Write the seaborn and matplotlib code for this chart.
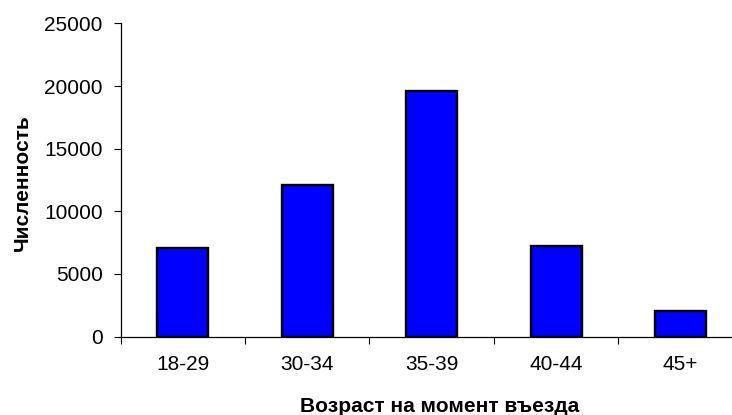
import matplotlib
matplotlib.use("Agg")
import matplotlib.pyplot as plt
import seaborn as sns
import pandas as pd
from matplotlib.ticker import FixedLocator, NullFormatter

# Age groups at the time of entry and the number of people in each
age_groups = ["18-29", "30-34", "35-39", "40-44", "45+"]
counts = [7100, 12100, 19600, 7200, 2000]
y_ticks = [0, 5000, 10000, 15000, 20000, 25000]

sns.set_theme(style="white")
plt.rcParams["font.family"] = ["Liberation Sans", "DejaVu Sans"]

df = pd.DataFrame({"group": age_groups, "count": counts})

W, H = 732, 415
fig = plt.figure(figsize=(W / 100, H / 100), dpi=100)
ax = fig.add_axes([120.6 / W, (H - 336.5) / H, 622.1 / W, 313 / H])

sns.barplot(data=df, x="group", y="count", ax=ax, color="#0000FF",
            saturation=1, width=0.41, edgecolor="black", linewidth=1.7)

ax.set_ylim(0, 25000)
ax.set_xlim(-0.5, len(age_groups) - 0.5)
ax.set_yticks(y_ticks)
ax.set_yticklabels([str(v) for v in y_ticks])

# category labels sit between tick marks; marks fall on group boundaries
ax.set_xticks(range(len(age_groups)))
ax.set_xticklabels(age_groups)
ax.xaxis.set_minor_locator(FixedLocator([i - 0.5 for i in range(len(age_groups) + 1)]))
ax.xaxis.set_minor_formatter(NullFormatter())
ax.tick_params(axis="x", which="major", length=0, pad=13, labelsize=15, colors="black")
ax.tick_params(axis="x", which="minor", length=5, width=0.8, color="black",
               direction="out", bottom=True)
ax.tick_params(axis="y", length=5, width=0.8, color="black", direction="out",
               left=True, pad=8, labelsize=15, labelcolor="black")

for side in ("top", "right"):
    ax.spines[side].set_visible(False)
for side in ("left", "bottom"):
    ax.spines[side].set_color("black")
    ax.spines[side].set_linewidth(0.9)

ax.set_xlabel("")
ax.set_ylabel("")
ax.grid(False)

fig.text(22.5 / W, 1 - 182.5 / H, "Численность", rotation=90, ha="center",
         va="center", fontsize=15, fontweight="bold", color="black")
fig.text(440 / W, 1 - 411.7 / H, "Возраст на момент въезда", ha="center",
         va="baseline", fontsize=15, fontweight="bold", color="black")

fig.savefig("out.png", dpi=100, facecolor="white")
